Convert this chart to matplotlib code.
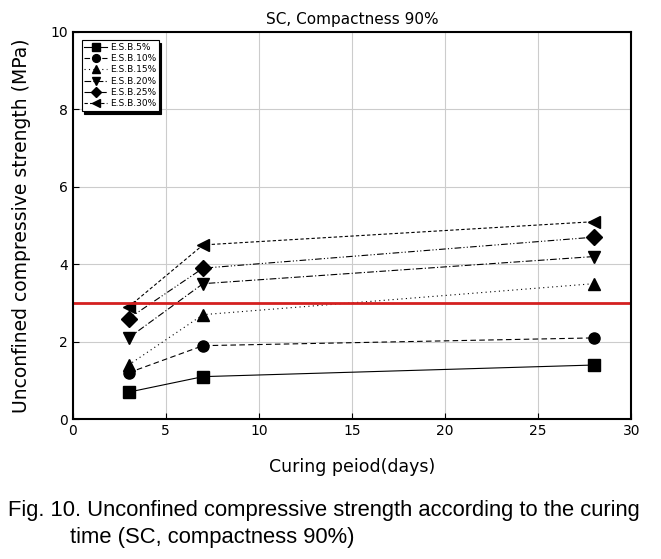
import matplotlib
matplotlib.use("Agg")
import matplotlib.pyplot as plt

days = [3, 7, 28]
labels = ["E.S.B.5%", "E.S.B.10%", "E.S.B.15%", "E.S.B.20%", "E.S.B.25%", "E.S.B.30%"]
esb5 = [0.7, 1.1, 1.4]
esb10 = [1.2, 1.9, 2.1]
esb15 = [1.4, 2.7, 3.5]
esb20 = [2.1, 3.5, 4.2]
esb25 = [2.6, 3.9, 4.7]
esb30 = [2.9, 4.5, 5.1]
series = [esb5, esb10, esb15, esb20, esb25, esb30]
limit_value = 3.0

markers = ["s", "o", "^", "v", "D", "<"]
styles = ["-", (0, (5, 3)), (0, (1, 3)), (0, (6, 2, 1, 2)), (0, (6, 2, 1, 2, 1, 2)), (0, (3, 2))]
msizes = [8, 8, 9, 9, 8, 9]

fig = plt.figure(figsize=(6.61, 5.59), dpi=100)
ax = fig.add_axes([0.110, 0.250, 0.845, 0.693])

for vals, lab, m, ls, ms in zip(series, labels, markers, styles, msizes):
    ax.plot(days, vals, color="black", linestyle=ls, linewidth=0.8, marker=m,
            markersize=ms, label=lab)

ax.axhline(limit_value, color="#d42020", linewidth=2)

ax.set_xlim(0, 30)
ax.set_ylim(0, 10)
ax.set_xticks([0, 5, 10, 15, 20, 25, 30])
ax.set_yticks([0, 2, 4, 6, 8, 10])
ax.grid(True, color="#cccccc", linewidth=0.8)
ax.set_axisbelow(True)
ax.tick_params(direction="in", labelsize=10, length=4)
for s in ax.spines.values():
    s.set_linewidth(1.5)

ax.set_title("SC, Compactness 90%", fontsize=11, pad=6)
ax.set_xlabel("Curing peiod(days)", fontsize=12.5, labelpad=14)
ax.set_ylabel("Unconfined compressive strength (MPa)", fontsize=13.5, labelpad=14)

leg = ax.legend(loc="upper left", fontsize=6.5, frameon=True, fancybox=False,
                shadow={"color": "black", "alpha": 1}, edgecolor="black",
                borderpad=0.3, labelspacing=0.25, handlelength=2.5,
                handletextpad=0.3, markerscale=0.7,
                bbox_to_anchor=(0.008, 0.99))
leg.get_frame().set_linewidth(0.8)

fig.text(0.012, 0.086, "Fig. 10. Unconfined compressive strength according to the curing",
         fontsize=15.8, family="Liberation Sans", ha="left", va="center")
fig.text(0.106, 0.038, "time (SC, compactness 90%)",
         fontsize=15.8, family="Liberation Sans", ha="left", va="center")

fig.savefig("out.png", dpi=100)
